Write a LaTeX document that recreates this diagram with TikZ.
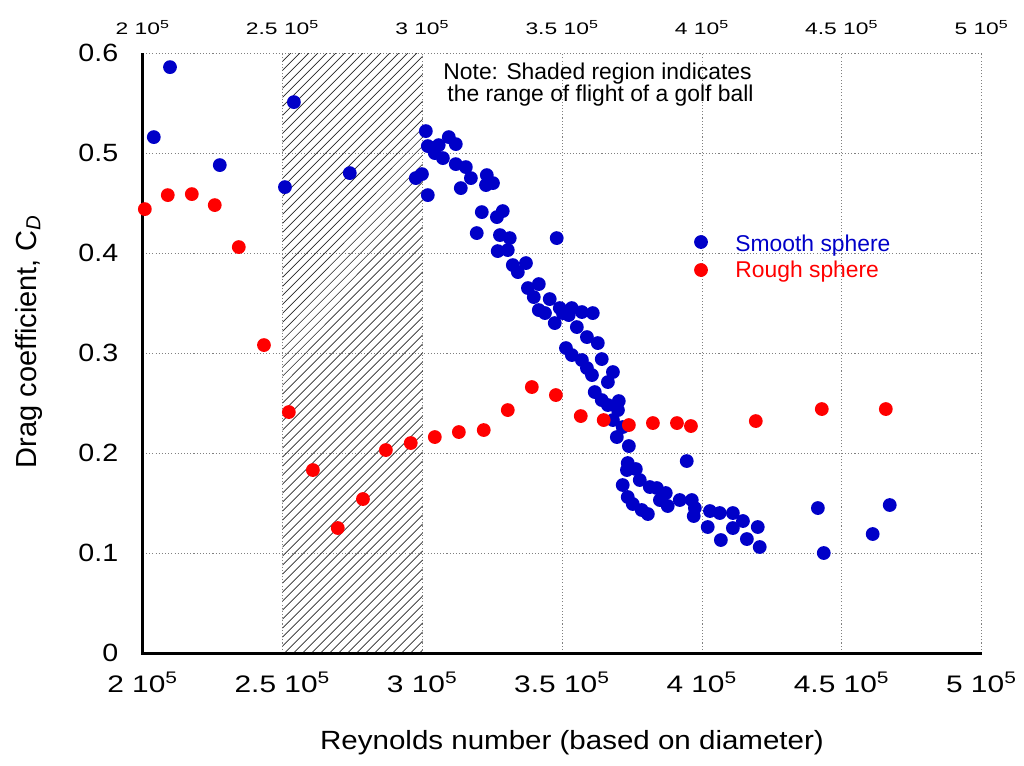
\documentclass[tikz,border=0pt]{standalone}
\usepackage{fontspec}
\setmainfont{Liberation Sans}
\usetikzlibrary{shapes,arrows}

\definecolor{azulpunto}{RGB}{0,0,200}
\definecolor{rojopunto}{RGB}{255,0,0}

\begin{document}
\begin{tikzpicture}[x=0.02cm, y=-0.02cm,
  rejilla/.style={gray, line width=0.5pt, dash pattern=on 0.6pt off 1.2pt},
  eje/.style={black, line width=1.7pt},
  rayado/.style={black!85, line width=0.4pt},
  smoothdot/.style={fill=azulpunto},
  roughdot/.style={fill=rojopunto},
  ticktop/.style={anchor=base, inner sep=0, xscale=1.3, yscale=0.95},
  tickbottom/.style={anchor=base, inner sep=0, xscale=1.7, yscale=1.36},
  tickleft/.style={anchor=east, inner sep=0, xscale=1.63, yscale=1.42}]

\useasboundingbox (0,0) rectangle (1024,765);

% zona de datos: x en unidades de 10^5, y en C_D
\begin{scope}[shift={(-416.34,653)}, x=5.5934cm, y=20cm]
  \foreach \v in {0.1,0.2,0.3,0.4,0.5,0.6}
    \draw [rejilla] (2,\v) -- (5,\v); %lineas horizontales
  \foreach \r in {2.5,3,3.5,4,4.5,5}
    \draw [rejilla] (\r,0) -- (\r,0.6); %lineas verticales

  % region sombreada (vuelo de la pelota)
  \begin{scope}
    \clip (2.5,0) rectangle (3,0.6);
    \foreach \k in {0,...,84}
      \draw [rayado] ({2.5+(\k*9-610)/279.67},0) -- ++(2.181,0.61);
  \end{scope}

  \draw [eje] (2,0.6) -- (2,0) -- (5,0); %ejes

  \foreach \v in {0,0.1,0.2,0.3,0.4,0.5,0.6}
    \node [tickleft] at (1.914,\v) {\v};
  \foreach \r in {2,2.5,3,3.5,4,4.5,5} {
    \node [tickbottom] at (\r,-0.039) {\r\ 10\textsuperscript{5}};
    \node [ticktop] at (\r,0.619) {\r\ 10\textsuperscript{5}};
  }

  % esfera lisa
  \foreach \x/\y in {2.097/0.586, 2.039/0.516, 2.275/0.488, 2.540/0.551, 2.508/0.466, 2.740/0.480,
      2.976/0.475, 2.998/0.479, 3.012/0.522, 3.019/0.458, 3.094/0.516, 3.119/0.509, 3.019/0.507,
      3.037/0.505, 3.058/0.508, 3.044/0.500, 3.073/0.495, 3.119/0.489, 3.155/0.486, 3.173/0.475,
      3.137/0.465, 3.230/0.478, 3.227/0.468, 3.252/0.470, 3.212/0.441, 3.266/0.436, 3.287/0.442,
      3.194/0.420, 3.277/0.418, 3.312/0.415, 3.269/0.402, 3.305/0.403, 3.323/0.388, 3.341/0.381,
      3.370/0.390, 3.377/0.365, 3.416/0.369, 3.398/0.356, 3.480/0.415, 3.455/0.354, 3.416/0.343,
      3.438/0.340, 3.491/0.345, 3.534/0.345, 3.570/0.341, 3.609/0.340, 3.502/0.340, 3.523/0.338,
      3.473/0.330, 3.552/0.326, 3.588/0.316, 3.627/0.310, 3.513/0.305, 3.534/0.298, 3.570/0.293,
      3.641/0.294, 3.588/0.285, 3.606/0.278, 3.681/0.281, 3.663/0.271, 3.616/0.261, 3.641/0.253,
      3.663/0.248, 3.702/0.252, 3.699/0.243, 3.681/0.233, 3.716/0.226, 3.695/0.216, 3.738/0.207,
      3.945/0.192, 3.734/0.190, 3.763/0.184, 3.731/0.183, 3.777/0.173, 3.716/0.168, 3.813/0.166,
      3.838/0.165, 3.870/0.160, 3.849/0.153, 3.877/0.147, 3.734/0.156, 3.752/0.149, 3.784/0.143,
      3.806/0.139, 3.920/0.153, 3.963/0.153, 3.974/0.145, 3.970/0.137, 4.028/0.142, 4.063/0.140,
      4.110/0.140, 4.146/0.132, 4.020/0.126, 4.110/0.125, 4.199/0.126, 4.067/0.113, 4.160/0.114,
      4.206/0.106, 4.414/0.145, 4.435/0.100, 4.610/0.119, 4.671/0.148}
    \fill [smoothdot] (\x,\y) circle [radius=0.138cm];

  % esfera rugosa
  \foreach \x/\y in {2.007/0.444, 2.089/0.458, 2.175/0.459, 2.257/0.448, 2.343/0.406, 2.433/0.308,
      2.522/0.241, 2.608/0.183, 2.697/0.125, 2.787/0.154, 2.869/0.203, 2.958/0.210, 3.044/0.216,
      3.130/0.221, 3.219/0.223, 3.305/0.243, 3.391/0.266, 3.477/0.258, 3.566/0.237, 3.648/0.233,
      3.738/0.228, 3.824/0.230, 3.910/0.230, 3.960/0.227, 4.192/0.232, 4.428/0.244, 4.657/0.244}
    \fill [roughdot] (\x,\y) circle [radius=0.138cm];
\end{scope}

% titulos de ejes
\node [anchor=base, xscale=1.68, yscale=1.5] (xtitle) at (572,749) {Reynolds number (based on diameter)};
\node [anchor=base, rotate=90, scale=1.65] (ytitle) at (36,341) {Drag coefficient, C\textsubscript{\textit{D}}};

% nota
\node [anchor=base west, inner sep=0, scale=1.3] (note1) at (443,79) {Note: Shaded region indicates};
\node [anchor=base west, inner sep=0, scale=1.3] (note2) at (447,101) {the range of flight of a golf ball};

% leyenda
\fill [smoothdot] (701,242) circle [radius=0.138cm];
\fill [roughdot] (701,270) circle [radius=0.138cm];
\node [anchor=base west, inner sep=0, scale=1.3, text=azulpunto] (smoothlab) at (735,251) {Smooth sphere};
\node [anchor=base west, inner sep=0, scale=1.3, text=rojopunto] (roughlab) at (735,277) {Rough sphere};

\end{tikzpicture}
\end{document}
